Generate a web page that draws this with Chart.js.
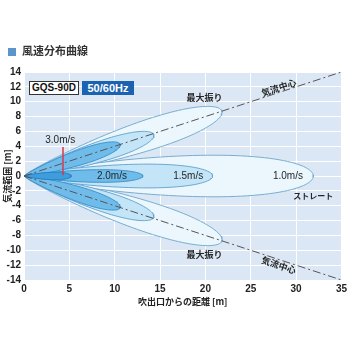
<!DOCTYPE html>
<html>
<head>
<meta charset="utf-8">
<script src="https://cdn.jsdelivr.net/npm/chart.js@4.4.1/dist/chart.umd.min.js"></script>
<style>
  html, body { margin: 0; padding: 0; background: #fff; }
  #wrap { position: relative; width: 350px; height: 350px; }
  #wrap canvas { position: absolute; left: 0; top: 0; }
  .head { position: absolute; left: 8px; top: 43px; font: bold 11px "Noto Sans CJK JP"; color: #333; line-height: 14px; white-space: nowrap; }
  .head i { display: inline-block; width: 8px; height: 8px; background: #5b95cc; margin-right: 6px; vertical-align: -1px; }
  .tag { position: absolute; top: 81px; height: 14px; box-sizing: border-box; text-align: center; font: bold 10px "Liberation Sans"; line-height: 12px; }
  .model { left: 29px; width: 50px; border: 1px solid #333; background: #fff; color: #111; }
  .hz { left: 82px; width: 52px; background: #1b63b0; color: #fff; font-size: 11px; line-height: 14px; }
</style>
</head>
<body>
<div id="wrap">
  <canvas id="myChart" width="350" height="350"></canvas>
  <div class="head"><i></i>風速分布曲線</div>
  <div class="tag model">GQS-90D</div>
  <div class="tag hz">50/60Hz</div>
</div>
<script>
// wind speed levels, inner to outer
const speeds = ["3.0m/s", "2.0m/s", "1.5m/s", "1.0m/s"];

// straight blow: reach along the floor [m] and half width [m] per speed
const straightReach = [5.2, 13.1, 20.8, 31.9];
const straightWidth = [0.5, 0.85, 1.6, 2.8];

// max swing lobes (2.0, 1.5, 1.0 m/s): tip of the lobe and half width [m]
const swingTipX = [10.6, 14.3, 21.8];
const swingTipY = [4.3, 5.6, 8.8];
const swingWidth = [1.0, 1.35, 2.0];

// air flow centre lines run from the outlet to this corner
const centerEnd = [35, 14];

// 3.0m/s marker
const markerX = 4.3;
const markerY = [0.1, 3.9];

const fills = ["#3d9ddd", "#6fbceb", "#c4e4f7", "#ebf6fd"];
const strokes = ["#2b7fc0", "#3f93cc", "#6aa8d0", "#78aecf"];

// lobe outline: from the outlet to the tip and back
function lobe(tx, ty, w) {
  const len = Math.hypot(tx, ty);
  const nx = -ty / len, ny = tx / len;
  const p = 0.75;
  const peak = Math.pow(Math.sin(Math.atan(Math.sqrt(p))), p) * Math.cos(Math.atan(Math.sqrt(p)));
  const top = [], bot = [];
  for (let i = 0; i <= 48; i++) {
    const t = i / 48 * Math.PI / 2;
    const s = Math.sin(t), h = w * Math.pow(s, p) * Math.cos(t) / peak;
    top.push({ x: tx * s + nx * h, y: ty * s + ny * h });
    bot.push({ x: tx * s - nx * h, y: ty * s - ny * h });
  }
  return top.concat(bot.reverse());
}

function lobeSet(points, level) {
  return {
    data: points,
    backgroundColor: fills[level],
    borderColor: strokes[level],
    borderWidth: 1,
    fill: "shape",
    pointRadius: 0,
    tension: 0,
    order: level + 1
  };
}

const datasets = [];
straightReach.forEach((r, i) => datasets.push(lobeSet(lobe(r, 0, straightWidth[i]), i)));
swingTipX.forEach((x, j) => {
  datasets.push(lobeSet(lobe(x, swingTipY[j], swingWidth[j]), j + 1));
  datasets.push(lobeSet(lobe(x, -swingTipY[j], swingWidth[j]), j + 1));
});
[1, -1].forEach(sign => datasets.push({
  data: [{ x: 0, y: 0 }, { x: centerEnd[0], y: sign * centerEnd[1] }],
  borderColor: "#555",
  borderWidth: 1,
  borderDash: [8, 3, 2, 3],
  pointRadius: 0,
  fill: false,
  order: 0
}));
datasets.push({
  data: [{ x: markerX, y: markerY[0] }, { x: markerX, y: markerY[1] }],
  borderColor: "#d43a4e",
  borderWidth: 1.5,
  pointRadius: 0,
  fill: false,
  order: 0
});

// text placed in data coordinates
const notes = [
  { text: speeds[0], x: 4.0, y: 4.85, font: "10px 'Liberation Sans'" },
  { text: speeds[1], x: 9.7, y: 0, font: "10px 'Liberation Sans'" },
  { text: speeds[2], x: 18.1, y: 0, font: "10px 'Liberation Sans'" },
  { text: speeds[3], x: 29.1, y: 0, font: "10px 'Liberation Sans'" },
  { text: "最大振り", x: 19.9, y: 10.6, font: "bold 9px 'Noto Sans CJK JP'" },
  { text: "最大振り", x: 19.9, y: -10.6, font: "bold 9px 'Noto Sans CJK JP'" },
  { text: "ストレート", x: 31.9, y: -2.7, font: "bold 8px 'Noto Sans CJK JP'" },
  { text: "気流中心", x: 28.1, y: 11.9, font: "bold 9px 'Noto Sans CJK JP'", along: 1 },
  { text: "気流中心", x: 28.1, y: -12.0, font: "bold 9px 'Noto Sans CJK JP'", along: -1 }
];

const plotBg = {
  id: "plotBg",
  beforeDraw(chart) {
    const { ctx, chartArea: a } = chart;
    ctx.save();
    ctx.fillStyle = "#dbe7f4";
    ctx.fillRect(a.left, a.top, a.right - a.left, a.bottom - a.top);
    ctx.restore();
  }
};

const noteLabels = {
  id: "noteLabels",
  afterDatasetsDraw(chart) {
    const { ctx, scales: { x, y } } = chart;
    const ang = Math.atan2(y.getPixelForValue(centerEnd[1]) - y.getPixelForValue(0),
                           x.getPixelForValue(centerEnd[0]) - x.getPixelForValue(0));
    ctx.save();
    ctx.textAlign = "center";
    ctx.textBaseline = "middle";
    ctx.fillStyle = "#262626";
    notes.forEach(n => {
      ctx.save();
      ctx.translate(x.getPixelForValue(n.x), y.getPixelForValue(n.y));
      if (n.along) ctx.rotate(n.along * ang);
      ctx.font = n.font;
      ctx.fillText(n.text, 0, 0);
      ctx.restore();
    });
    ctx.restore();
  }
};

const tickFont = { family: "Liberation Sans", weight: "bold", size: 10 };
const titleFont = { family: "Noto Sans CJK JP", weight: "bold", size: 9 };

new Chart(document.getElementById("myChart"), {
  type: "line",
  data: { datasets },
  plugins: [plotBg, noteLabels],
  options: {
    responsive: false,
    animation: false,
    layout: { padding: { left: 2, top: 72, right: 6, bottom: 43 } },
    plugins: {
      legend: { display: false },
      tooltip: { enabled: false },
      filler: { drawTime: "beforeDatasetDraw" }
    },
    scales: {
      x: {
        type: "linear",
        min: 0,
        max: 35,
        ticks: { stepSize: 5, autoSkip: false, color: "#222", font: tickFont, padding: 3, maxRotation: 0 },
        grid: { color: "#ffffff", drawTicks: false },
        border: { display: false },
        title: { display: true, text: "吹出口からの距離 [m]", color: "#222", font: titleFont, padding: { top: 2, bottom: 0 } },
        afterFit(s) { s.height = 27; }
      },
      y: {
        type: "linear",
        min: -14,
        max: 14,
        ticks: { stepSize: 2, autoSkip: false, color: "#222", font: tickFont, padding: 3 },
        grid: { color: "#ffffff", drawTicks: false },
        border: { display: false },
        title: { display: true, text: "気流範囲 [m]", color: "#222", font: titleFont, padding: 0 },
        afterFit(s) { s.width = 22; }
      }
    }
  }
});
</script>
</body>
</html>
